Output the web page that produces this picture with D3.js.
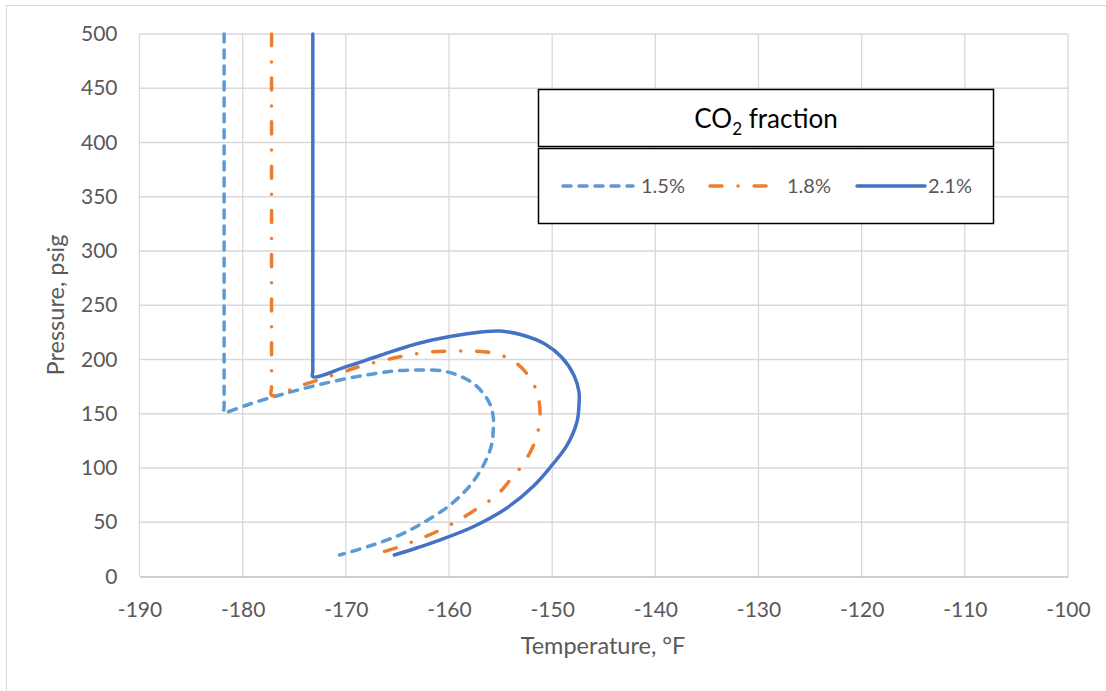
<!DOCTYPE html>
<html>
<head>
<meta charset="utf-8">
<script src="https://cdn.jsdelivr.net/npm/d3@7"></script>
<style>
  body { margin: 0; background: #fff; }
  text { font-family: Lato, "Noto Sans", sans-serif; }
</style>
</head>
<body>
<script>
// series: [temperature °F, pressure psig]
var SERIES_NAMES = ["1.5%", "1.8%", "2.1%"];
var co2_15 = [
  [-181.8, 500], [-181.8, 158], [-181.8, 150.7], [-181.6, 151.2], [-179.3, 159],
  [-176.4, 167.3], [-173.5, 174.7], [-170.6, 181.1], [-167.7, 186.2], [-165.3, 189.4],
  [-162.9, 190.3], [-160.6, 189.4], [-159.2, 185.7], [-157.7, 178.4], [-156.7, 169.1],
  [-156.0, 158.3], [-155.7, 146.1], [-155.7, 136.9], [-155.9, 120.3], [-156.7, 101.8],
  [-158.0, 83.4], [-159.9, 65.9], [-162.4, 50.2], [-164.8, 38.2], [-167.7, 28.1],
  [-170.6, 19.8]
];
var co2_18 = [
  [-177.2, 500], [-177.2, 175], [-177.2, 167], [-174.3, 176.2], [-170.3, 188.5],
  [-168.3, 194.6], [-166.1, 199.7], [-164.1, 203.8], [-161.9, 206.9], [-159.7, 207.8],
  [-157.5, 207.6], [-155.4, 205.4], [-153.5, 196.8], [-152.0, 180.8], [-151.3, 163],
  [-151.2, 143.9], [-151.7, 123.4], [-152.8, 104], [-154.1, 88.6], [-155.4, 74.7],
  [-157.4, 61.8], [-159.1, 51.7], [-161.1, 41.8], [-163.0, 34.1], [-165.1, 26.5],
  [-167.7, 19.4]
];
var co2_21 = [
  [-173.2, 500], [-173.2, 190], [-173.2, 184.2], [-169.9, 193.6], [-166.7, 203.7],
  [-163.2, 214.3], [-159.9, 221.2], [-156.7, 225.5], [-155.1, 226.3], [-152.9, 222.6],
  [-150.7, 214.3], [-149.1, 202.3], [-147.9, 185.7], [-147.4, 170.1], [-147.4, 158.1],
  [-147.6, 142.4], [-148.6, 120.3], [-150.0, 102.8], [-151.8, 83.4], [-154.4, 63.1],
  [-157.6, 46.1], [-160.9, 33.6], [-163.0, 26.7], [-165.3, 19.8]
];
var X_TICKS = [-190, -180, -170, -160, -150, -140, -130, -120, -110, -100];
var Y_TICKS = [0, 50, 100, 150, 200, 250, 300, 350, 400, 450, 500];

var W = 1106, H = 691;
var plotL = 139.5, plotR = 1068, plotT = 34, plotB = 576.5;

var allSeries = [co2_15, co2_18, co2_21];
var colors = ["#5B9BD5", "#ED7D31", "#4472C4"];
var dashes = ["8,8", "12,16,0.1,16", null];

var svg = d3.select("body").append("svg")
  .attr("width", W).attr("height", H);

// chart frame
svg.append("rect")
  .attr("x", 6.5).attr("y", 5.5).attr("width", W + 20).attr("height", H + 20)
  .attr("fill", "#fff").attr("stroke", "#d9d9d9");

var x = d3.scaleLinear().domain([-190, -100]).range([plotL, plotR]);
var y = d3.scaleLinear().domain([0, 500]).range([plotB, plotT]);

// gridlines
svg.append("g").selectAll("line")
  .data(X_TICKS).enter().append("line")
  .attr("x1", function(d) { return x(d); }).attr("x2", function(d) { return x(d); })
  .attr("y1", plotT).attr("y2", plotB)
  .attr("stroke", "#d9d9d9").attr("stroke-width", 1.3);
svg.append("g").selectAll("line")
  .data(Y_TICKS.filter(function(d) { return d > 0; })).enter().append("line")
  .attr("x1", plotL).attr("x2", plotR)
  .attr("y1", function(d) { return y(d); }).attr("y2", function(d) { return y(d); })
  .attr("stroke", "#d9d9d9").attr("stroke-width", 1.3);

var fmt = function(d) { return String(d); };   // keep plain hyphen

// x axis
var xAxis = svg.append("g")
  .attr("transform", "translate(0," + plotB + ")")
  .call(d3.axisBottom(x).tickValues(X_TICKS).tickFormat(fmt).tickSize(0).tickPadding(26));
xAxis.select(".domain").attr("stroke", "#bfbfbf").attr("stroke-width", 1.5);
xAxis.selectAll("text").attr("fill", "#595959").style("font-size", "21px")
  .style("font-family", "Lato, sans-serif");

// y axis
var yAxis = svg.append("g")
  .attr("transform", "translate(" + plotL + ",0)")
  .call(d3.axisLeft(y).tickValues(Y_TICKS).tickFormat(fmt).tickSize(0).tickPadding(22));
yAxis.select(".domain").remove();
yAxis.selectAll("text").attr("fill", "#595959").style("font-size", "21px")
  .style("font-family", "Lato, sans-serif");

// axis titles
svg.append("text")
  .attr("x", 603).attr("y", 654)
  .attr("text-anchor", "middle").attr("fill", "#595959")
  .style("font-size", "23.5px").text("Temperature, °F");
svg.append("text")
  .attr("transform", "translate(64,305) rotate(-90)")
  .attr("text-anchor", "middle").attr("fill", "#595959")
  .style("font-size", "23.5px").text("Pressure, psig");

// series
var line = d3.line()
  .x(function(d) { return x(d[0]); })
  .y(function(d) { return y(d[1]); })
  .curve(d3.curveCatmullRom.alpha(0.5));

svg.append("g").selectAll("path")
  .data(allSeries).enter().append("path")
  .attr("d", line)
  .attr("fill", "none")
  .attr("stroke", function(d, i) { return colors[i]; })
  .attr("stroke-width", 3.5)
  .attr("stroke-dasharray", function(d, i) { return dashes[i]; })
  .attr("stroke-linecap", "round")
  .attr("stroke-linejoin", "round");

// legend
var lg = svg.append("g");
lg.append("rect").attr("x", 538.5).attr("y", 89.5).attr("width", 455).attr("height", 57)
  .attr("fill", "#fff").attr("stroke", "#000").attr("stroke-width", 1.5);
lg.append("rect").attr("x", 538.5).attr("y", 148.5).attr("width", 455).attr("height", 75)
  .attr("fill", "#fff").attr("stroke", "#000").attr("stroke-width", 1.5);
var title = lg.append("text")
  .attr("x", 766).attr("y", 128).attr("text-anchor", "middle")
  .attr("fill", "#000").style("font-size", "26px");
title.append("tspan").text("CO");
title.append("tspan").attr("dy", 7).style("font-size", "17px").text("2");
title.append("tspan").attr("dy", -7).text(" fraction");

var legX = [563, 710, 857];
var legLen = [70, 58, 68];
var legTextX = [641, 787, 928];
var items = lg.selectAll("g.item")
  .data(SERIES_NAMES).enter().append("g");
items.append("line")
  .attr("x1", function(d, i) { return legX[i]; })
  .attr("x2", function(d, i) { return legX[i] + legLen[i]; })
  .attr("y1", 186).attr("y2", 186)
  .attr("stroke", function(d, i) { return colors[i]; })
  .attr("stroke-width", 3.5)
  .attr("stroke-dasharray", function(d, i) { return dashes[i]; })
  .attr("stroke-linecap", "round");
items.append("text")
  .attr("x", function(d, i) { return legTextX[i]; })
  .attr("y", 193)
  .attr("fill", "#595959").style("font-size", "20px")
  .text(function(d) { return d; });
</script>
</body>
</html>
